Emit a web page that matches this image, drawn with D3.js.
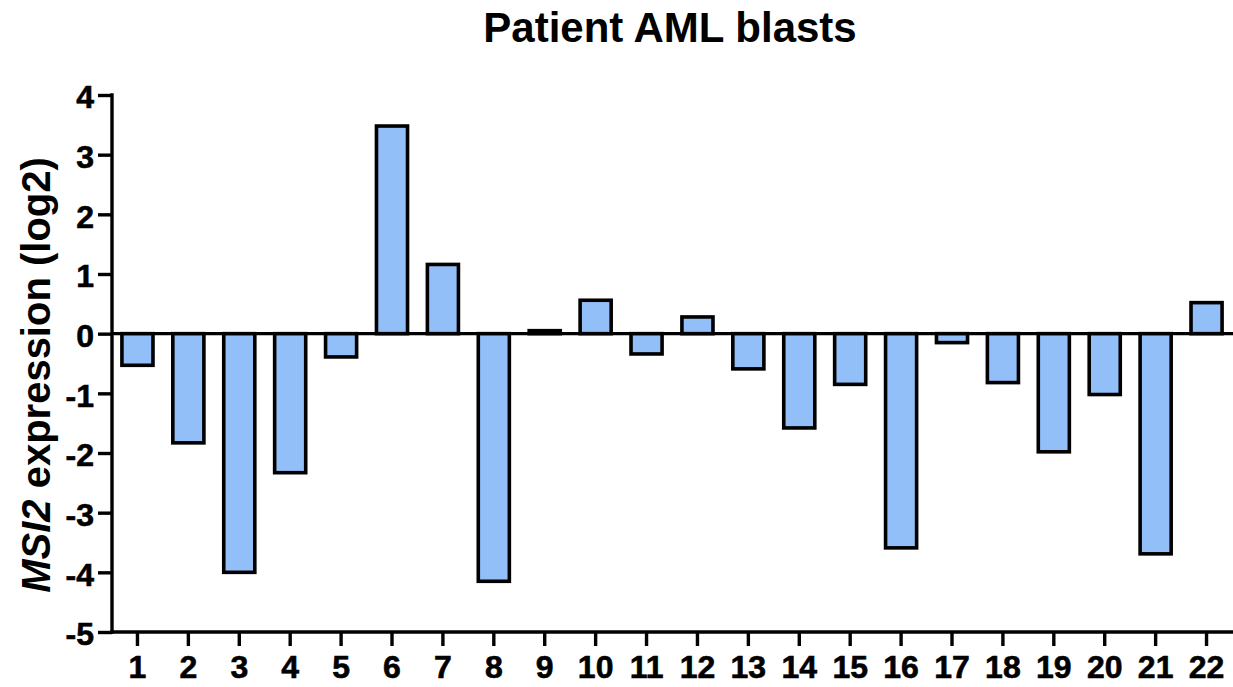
<!DOCTYPE html>
<html>
<head>
<meta charset="utf-8">
<script src="https://cdn.jsdelivr.net/npm/d3@7"></script>
<style>
  html, body { margin: 0; padding: 0; background: #fff; }
  svg { display: block; font-family: "Liberation Sans", Arial, Helvetica, sans-serif; font-weight: bold; }
</style>
</head>
<body>
<svg id="chart" width="1233" height="687"></svg>
<script>
// Patient sample numbers
const patients = ["1","2","3","4","5","6","7","8","9","10","11","12","13","14","15","16","17","18","19","20","21","22"];
// MSI2 expression (log2) per patient
const expression = [-0.53, -1.83, -4.00, -2.33, -0.39, 3.48, 1.16, -4.15, 0.05, 0.56, -0.34, 0.28, -0.59, -1.58, -0.85, -3.59, -0.15, -0.82, -1.98, -1.02, -3.69, 0.52];
// Y axis ticks
const yTicks = [-5, -4, -3, -2, -1, 0, 1, 2, 3, 4];

const svg = d3.select("#chart");
const plotLeft = 112, plotRight = 1232, plotTop = 95, plotBottom = 632;

const x = d3.scaleBand().domain(patients).range([plotLeft, plotRight]).padding(0);
const y = d3.scaleLinear().domain([-5, 4]).range([plotBottom, plotTop]);
const barW = x.bandwidth() * 0.61;

// Title
svg.append("text")
  .attr("x", 670).attr("y", 42)
  .attr("text-anchor", "middle")
  .style("font-size", "42px")
  .text("Patient AML blasts");

// Y axis title
const yt = svg.append("text")
  .attr("transform", `translate(50, 375) rotate(-90)`)
  .attr("text-anchor", "middle")
  .style("font-size", "40px");
yt.append("tspan").style("font-style", "italic").text("MSI2");
yt.append("tspan").text(" expression (log2)");

// Zero reference line
svg.append("line")
  .attr("x1", plotLeft).attr("x2", plotRight + 1)
  .attr("y1", y(0)).attr("y2", y(0))
  .attr("stroke", "#000").attr("stroke-width", 3.2);

// Bars
svg.append("g").selectAll("rect")
  .data(expression)
  .join("rect")
  .attr("x", (d, i) => x(patients[i]) + x.bandwidth() / 2 - barW / 2)
  .attr("width", barW)
  .attr("y", d => y(Math.max(0, d)))
  .attr("height", d => Math.abs(y(d) - y(0)))
  .attr("fill", "#93bff9")
  .attr("stroke", "#000")
  .attr("stroke-width", 3.6);

// Shared look for the tick labels
function styleTickText(sel) {
  sel.attr("fill", "#000")
    .attr("stroke", "#000")
    .attr("stroke-width", 0.6)
    .style("font-size", "32px")
    .style("font-family", "'Liberation Sans', Arial, sans-serif")
    .style("font-weight", "bold");
}

// Y axis
const yAxis = svg.append("g")
  .attr("transform", `translate(${plotLeft},0)`)
  .call(d3.axisLeft(y).tickValues(yTicks).tickSize(14).tickPadding(4).tickFormat(d3.format("d")));
yAxis.select(".domain").attr("stroke", "#000").attr("stroke-width", 3.4).attr("d", `M0,${plotTop - 1.7}V${plotBottom + 1.7}`);
yAxis.selectAll(".tick line").attr("stroke", "#000").attr("stroke-width", 3.4);
yAxis.selectAll(".tick text")
  .call(styleTickText)
  .attr("dy", "0.4em")
  .text(d => d < 0 ? "-" + Math.abs(d) : d);

// X axis
const xAxis = svg.append("g")
  .attr("transform", `translate(0,${plotBottom})`)
  .call(d3.axisBottom(x).tickSize(14).tickPadding(6));
xAxis.select(".domain").attr("stroke", "#000").attr("stroke-width", 3.4).attr("d", `M${plotLeft - 1.7},0H${plotRight + 1}`);
xAxis.selectAll(".tick line").attr("stroke", "#000").attr("stroke-width", 3.4);
xAxis.selectAll(".tick text")
  .call(styleTickText)
  .attr("y", 0).attr("dy", "46px");
</script>
</body>
</html>
